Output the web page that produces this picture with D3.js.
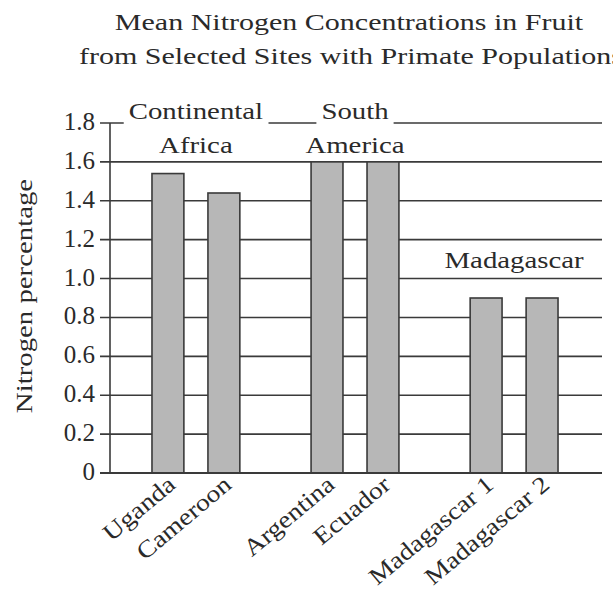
<!DOCTYPE html>
<html>
<head>
<meta charset="utf-8" />
<style>
  body { margin: 0; background: #fff; }
  svg { display: block; font-family: "Liberation Serif", "DejaVu Serif", serif; }
</style>
</head>
<body>
<svg id="chart"></svg>
<script src="https://d3js.org/d3.v7.min.js"></script>
<script>
  // data
  const groups = ["Continental Africa", "South America", "Madagascar"];
  const groupLines = [["Continental", "Africa"], ["South", "America"], ["Madagascar"]];
  const sites = ["Uganda", "Cameroon", "Argentina", "Ecuador", "Madagascar 1", "Madagascar 2"];
  const siteGroup = ["Continental Africa", "Continental Africa", "South America", "South America", "Madagascar", "Madagascar"];
  const nitrogen = [1.54, 1.44, 1.6, 1.6, 0.9, 0.9];
  const yTicks = [0, 0.2, 0.4, 0.6, 0.8, 1.0, 1.2, 1.4, 1.6, 1.8];
  const titleLines = ["Mean Nitrogen Concentrations in Fruit", "from Selected Sites with Primate Populations"];

  const width = 613, height = 597;
  const mLeft = 110, mRight = 600, mTop = 123, mBottom = 473;
  const ink = "#3a3a3a";
  const textInk = "#2a2a2a";
  const fs = 24;

  const svg = d3.select("#chart").attr("width", width).attr("height", height);

  // the book font is wider than Times, stretch the words a little
  function widen(sel, k) {
    sel.each(function () {
      const w = this.getComputedTextLength();
      d3.select(this).attr("textLength", w * k).attr("lengthAdjust", "spacingAndGlyphs");
    });
  }

  const y = d3.scaleLinear().domain([0, 1.8]).range([mBottom, mTop]);
  const xGroup = d3.scaleBand().domain(groups).range([mLeft, mRight])
    .paddingInner(0.3).paddingOuter(0.19);
  const xInner = d3.scaleBand().domain([0, 1]).range([0, xGroup.bandwidth()])
    .paddingInner(0.43).paddingOuter(0.21);

  const rows = sites.map((s, i) => ({
    site: s,
    group: siteGroup[i],
    value: nitrogen[i],
    slot: siteGroup.slice(0, i).filter(g => g === siteGroup[i]).length
  }));
  const barX = d => xGroup(d.group) + xInner(d.slot);

  // title
  svg.append("g")
    .attr("text-anchor", "middle")
    .attr("fill", textInk)
    .attr("font-size", fs)
    .selectAll("text")
    .data(titleLines)
    .join("text")
    .attr("x", (d, i) => i === 0 ? 349 : 351)
    .attr("y", (d, i) => 30 + i * 34)
    .text(d => d)
    .call(widen, 1.25);

  // gridlines with tick stubs
  svg.append("g")
    .selectAll("line")
    .data(yTicks)
    .join("line")
    .attr("x1", mLeft - 10)
    .attr("x2", mRight + 2)
    .attr("y1", d => y(d))
    .attr("y2", d => y(d))
    .attr("stroke", ink)
    .attr("stroke-width", 1.6);

  // y axis line
  svg.append("line")
    .attr("x1", mLeft).attr("x2", mLeft)
    .attr("y1", y(1.8)).attr("y2", y(0))
    .attr("stroke", ink).attr("stroke-width", 1.6);

  // tick labels
  svg.append("g")
    .attr("text-anchor", "end")
    .attr("font-size", 25)
    .attr("fill", textInk)
    .selectAll("text")
    .data(yTicks)
    .join("text")
    .attr("x", mLeft - 15)
    .attr("y", d => y(d) + 7)
    .text(d => d === 0 ? "0" : d3.format(".1f")(d));

  // axis title
  svg.append("text")
    .attr("transform", `translate(32,${296}) rotate(-90)`)
    .attr("text-anchor", "middle")
    .attr("font-size", fs)
    .attr("fill", textInk)
    .text("Nitrogen percentage")
    .call(widen, 1.2);

  // bars
  svg.append("g")
    .selectAll("rect")
    .data(rows)
    .join("rect")
    .attr("x", barX)
    .attr("y", d => y(d.value))
    .attr("width", xInner.bandwidth())
    .attr("height", d => y(0) - y(d.value))
    .attr("fill", "#b7b7b7")
    .attr("stroke", ink)
    .attr("stroke-width", 1.6);

  // zero line drawn on top
  svg.append("line")
    .attr("x1", mLeft - 10).attr("x2", mRight + 2)
    .attr("y1", y(0)).attr("y2", y(0))
    .attr("stroke", ink).attr("stroke-width", 1.8);

  // group labels
  const gl = svg.append("g")
    .attr("text-anchor", "middle")
    .attr("font-size", fs)
    .attr("fill", textInk);

  groups.forEach((g, gi) => {
    const cx = xGroup(g) + xGroup.bandwidth() / 2;
    const lines = groupLines[gi];
    const baseY = lines.length > 1 ? y(1.8) - 4 : y(1.0) - 11;
    lines.forEach((t, li) => {
      const txt = gl.append("text")
        .attr("x", cx)
        .attr("y", baseY + li * 34)
        .text(t)
        .call(widen, 1.2);
      if (li === 0 && lines.length > 1) {
        const bb = txt.node().getBBox();
        gl.insert("rect", "text")
          .attr("x", bb.x - 5)
          .attr("y", y(1.8) - 3)
          .attr("width", bb.width + 10)
          .attr("height", 6)
          .attr("fill", "#fff");
      }
    });
  });

  // x labels
  svg.append("g")
    .attr("text-anchor", "end")
    .attr("font-size", fs)
    .attr("fill", textInk)
    .selectAll("text")
    .data(rows)
    .join("text")
    .attr("transform", d => `translate(${barX(d) + xInner.bandwidth() / 2 + 9},${mBottom + 14}) rotate(-40)`)
    .text(d => d.site)
    .call(widen, 1.15);
</script>
</body>
</html>
